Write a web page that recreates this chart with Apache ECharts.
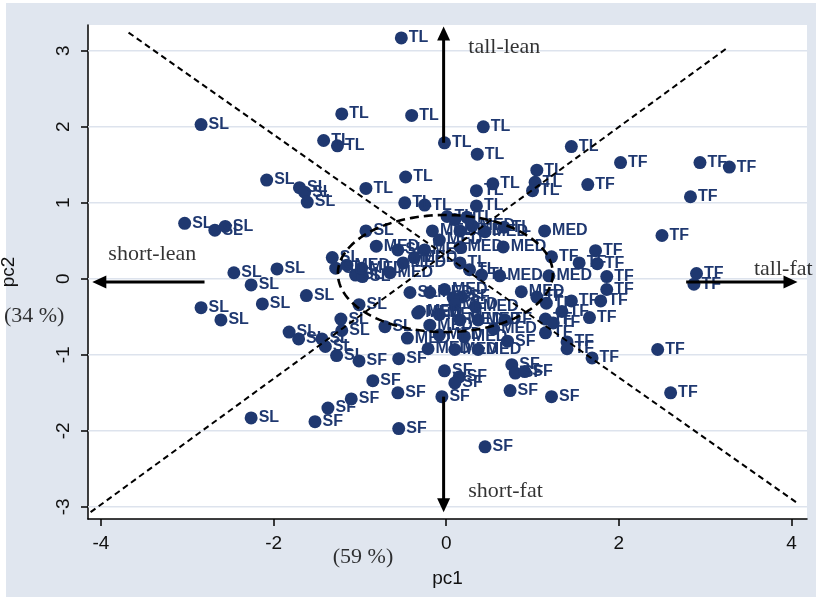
<!DOCTYPE html>
<html><head><meta charset="utf-8">
<script src="https://cdn.jsdelivr.net/npm/echarts@6/dist/echarts.min.js"></script>
<style>html,body{margin:0;padding:0;background:#fff}#c{width:821px;height:598px}</style>
</head><body><div id="c"></div>
<script>
// ---- data (pc1, pc2) per group ----
const tlPoints = [[-0.52,3.17],[-1.21,2.17],[-0.40,2.15],[0.43,2.00],[-1.42,1.82],[-1.26,1.75],[-0.02,1.79],[0.36,1.64],[1.45,1.74],[-0.47,1.34],[-0.93,1.19],[0.54,1.25],[1.05,1.43],[1.03,1.27],[1.00,1.16],[0.35,1.16],[-0.48,1.00],[-0.25,0.97],[0.35,0.96],[0.01,0.82],[0.24,0.81],[0.67,0.68],[0.16,0.21],[0.27,0.12],[0.41,0.05],[0.10,0.78]];
const tfPoints = [[2.02,1.53],[2.94,1.53],[3.28,1.47],[1.64,1.24],[2.83,1.08],[2.50,0.57],[1.73,0.37],[1.54,0.21],[1.75,0.20],[1.86,0.03],[2.90,0.07],[2.87,-0.07],[1.86,-0.14],[1.45,-0.29],[1.79,-0.29],[1.34,-0.43],[1.66,-0.51],[2.45,-0.93],[1.40,-0.83],[1.40,-0.92],[1.69,-1.04],[2.60,-1.50],[1.22,0.29],[1.15,-0.53],[1.24,-0.58],[1.15,-0.71],[1.05,-0.24],[1.16,-0.32],[0.68,-0.54]];
const slPoints = [[-2.84,2.03],[-2.08,1.30],[-1.70,1.20],[-1.64,1.14],[-1.61,1.01],[-3.03,0.73],[-2.68,0.64],[-2.56,0.69],[-2.46,0.08],[-2.26,-0.08],[-1.96,0.13],[-1.62,-0.22],[-2.84,-0.38],[-2.61,-0.54],[-2.13,-0.33],[-1.82,-0.70],[-1.71,-0.79],[-1.44,-0.79],[-1.40,-0.89],[-1.27,-1.01],[-2.26,-1.83],[-1.22,-0.53],[-1.21,-0.68],[-1.01,-0.34],[-0.71,-0.63],[-0.93,0.63],[-1.32,0.28],[-1.28,0.14],[-1.05,0.05],[-0.97,0.03],[-0.42,-0.18],[-0.56,0.38]];
const sfPoints = [[-1.01,-1.08],[-0.85,-1.34],[-1.10,-1.58],[-1.37,-1.70],[-1.52,-1.88],[-0.55,-1.05],[-0.56,-1.50],[-0.55,-1.97],[-0.02,-1.21],[0.15,-1.29],[0.10,-1.37],[-0.05,-1.55],[0.76,-1.13],[0.80,-1.24],[0.91,-1.22],[0.74,-1.47],[1.22,-1.55],[0.45,-2.21],[0.71,-0.82],[0.18,-0.24],[0.08,-0.25]];
const medPoints = [[-0.16,0.63],[-0.81,0.43],[0.16,0.63],[0.30,0.70],[0.45,0.62],[0.66,0.42],[0.16,0.42],[-0.08,0.51],[1.14,0.63],[0.62,0.04],[1.19,0.04],[-1.15,0.18],[-0.98,0.14],[-0.65,0.08],[-0.50,0.21],[-0.37,0.28],[-0.25,0.38],[-0.19,-0.18],[-0.02,-0.14],[0.87,-0.17],[0.34,-0.37],[0.10,-0.34],[-0.08,-0.47],[0.16,-0.54],[0.37,-0.54],[-0.19,-0.61],[-0.31,-0.43],[-0.45,-0.78],[-0.21,-0.92],[0.10,-0.93],[0.37,-0.93],[-0.08,-0.74],[0.21,-0.76],[0.55,-0.66],[-0.33,-0.45]];

const xTicks = [-4,-2,0,2,4];
const yTicks = [-3,-2,-1,0,1,2,3];
const xRange = [-4.15, 4.18];
const yRange = [-3.16, 3.34];

// reference lines
const diagStart = [[-3.68,3.24],[-4.12,-3.07]];
const diagEnd   = [[4.08,-2.96],[3.27,3.05]];
const ellipseCenter = [-0.01,0.07];
const ellipseRadii  = [1.245,0.77];
const arrowFrom = [[-0.03,1.79],[-0.03,-1.55],[-2.80,-0.04],[2.78,-0.04]];
const arrowTo   = [[-0.03,3.32],[-0.03,-3.07],[-4.10,-0.04],[4.07,-0.04]];
const annText = ['tall-lean','short-lean','tall-fat','short-fat','(34 %)','(59 %)'];
const annX = [0.25,-3.92,3.56,0.25,-5.13,-1.32];
const annY = [3.05,0.32,0.13,-2.80,-0.49,-3.66];

const NAVY = '#1f3870';
const SANS = '"Liberation Sans", Arial, Helvetica, sans-serif';
const SERIF = '"Liberation Serif", "Times New Roman", serif';

const points = [].concat(
  tlPoints.map(p=>[p[0],p[1],'TL']),
  tfPoints.map(p=>[p[0],p[1],'TF']),
  slPoints.map(p=>[p[0],p[1],'SL']),
  sfPoints.map(p=>[p[0],p[1],'SF']),
  medPoints.map(p=>[p[0],p[1],'MED'])
);

const chart = echarts.init(document.getElementById('c'), null, {renderer:'canvas'});
chart.setOption({
  animation:false,
  backgroundColor:'#ffffff',
  graphic:[{type:'rect', z:-10, shape:{x:6,y:3,width:810,height:594}, style:{fill:'#e0e6ef'}, silent:true}],
  grid:{left:88,right:14,top:25,bottom:79,show:true,backgroundColor:'#ffffff',borderWidth:0,outerBoundsMode:'none'},
  xAxis:{type:'value',min:xRange[0],max:xRange[1],
    name:'pc1',nameLocation:'middle',nameGap:50,nameTextStyle:{fontFamily:SANS,fontSize:19,color:'#111'},
    axisLine:{show:true,onZero:false,lineStyle:{color:'#000',width:1.5}},
    axisTick:{show:true,length:7,customValues:xTicks,lineStyle:{color:'#000',width:1.5}},
    axisLabel:{customValues:xTicks,margin:15,fontFamily:SANS,fontSize:19,color:'#111'},
    splitLine:{show:false}},
  yAxis:{type:'value',min:yRange[0],max:yRange[1],
    name:'pc2',nameLocation:'middle',nameGap:70,nameRotate:90,nameTextStyle:{fontFamily:SANS,fontSize:19,color:'#111'},
    axisLine:{show:true,onZero:false,lineStyle:{color:'#000',width:1.5}},
    axisTick:{show:true,length:7,customValues:yTicks,lineStyle:{color:'#000',width:1.5}},
    axisLabel:{customValues:yTicks,rotate:90,margin:15,fontFamily:SANS,fontSize:19,color:'#111'},
    splitLine:{show:false}},
  series:[
    { // gridlines
      type:'custom', z:1, silent:true, clip:false,
      data: yTicks.map(v=>[0,v]),
      renderItem:function(params, api){
        const cs = params.coordSys;
        const y = api.coord([0, api.value(1)])[1];
        return {type:'line', shape:{x1:cs.x, y1:y, x2:cs.x+cs.width, y2:y}, style:{stroke:'#dde3ed', lineWidth:1.5}};
      }
    },
    {
      type:'scatter', z:3, clip:false,
      data: points,
      symbol:'circle', symbolSize:13,
      itemStyle:{color:NAVY, opacity:1},
      label:{show:true, position:'right', distance:1, formatter:p=>p.value[2],
        fontFamily:SANS, fontSize:16, fontWeight:'bold', color:NAVY}
    },
    { // diagonals
      type:'custom', z:5, silent:true, clip:false,
      data: diagStart.map((s,i)=>[s[0],s[1],diagEnd[i][0],diagEnd[i][1]]),
      renderItem:function(params, api){
        const a = api.coord([api.value(0), api.value(1)]);
        const b = api.coord([api.value(2), api.value(3)]);
        return {type:'line', shape:{x1:a[0],y1:a[1],x2:b[0],y2:b[1]}, style:{stroke:'#000', lineWidth:2, lineDash:[6,4]}};
      }
    },
    { // ellipse
      type:'custom', z:5, silent:true, clip:false,
      data: [[ellipseCenter[0], ellipseCenter[1], ellipseRadii[0], ellipseRadii[1]]],
      renderItem:function(params, api){
        const c = api.coord([api.value(0), api.value(1)]);
        const s = api.size([api.value(2), api.value(3)]);
        const pts = [];
        for (let i=0;i<=180;i++){const t=i/180*2*Math.PI; pts.push([c[0]+s[0]*Math.cos(t), c[1]+s[1]*Math.sin(t)]);}
        return {type:'polyline', shape:{points:pts}, style:{fill:null, stroke:'#000', lineWidth:2.6, lineDash:[9,5]}};
      }
    },
    { // arrows
      type:'custom', z:6, silent:true, clip:false,
      data: arrowFrom.map((s,i)=>[s[0],s[1],arrowTo[i][0],arrowTo[i][1]]),
      renderItem:function(params, api){
        const p1 = api.coord([api.value(0), api.value(1)]);
        const p2 = api.coord([api.value(2), api.value(3)]);
        const dx=p2[0]-p1[0], dy=p2[1]-p1[1], len=Math.hypot(dx,dy), ux=dx/len, uy=dy/len;
        const L=14, W=6.5, bx=p2[0]-ux*L, by=p2[1]-uy*L;
        return {type:'group', children:[
          {type:'line', shape:{x1:p1[0],y1:p1[1],x2:bx+ux*2,y2:by+uy*2}, style:{stroke:'#000', lineWidth:3}},
          {type:'polygon', shape:{points:[[p2[0],p2[1]],[bx-uy*W,by+ux*W],[bx+uy*W,by-ux*W]]}, style:{fill:'#000'}}
        ]};
      }
    },
    { // annotations
      type:'scatter', z:7, clip:false, silent:true,
      data: annText.map((t,i)=>[annX[i], annY[i], t]),
      symbolSize:1, itemStyle:{color:'rgba(0,0,0,0)'},
      label:{show:true, position:'right', distance:0, formatter:p=>p.value[2],
        fontFamily:SERIF, fontSize:22, color:'#000'}
    }
  ]
});
</script></body></html>
